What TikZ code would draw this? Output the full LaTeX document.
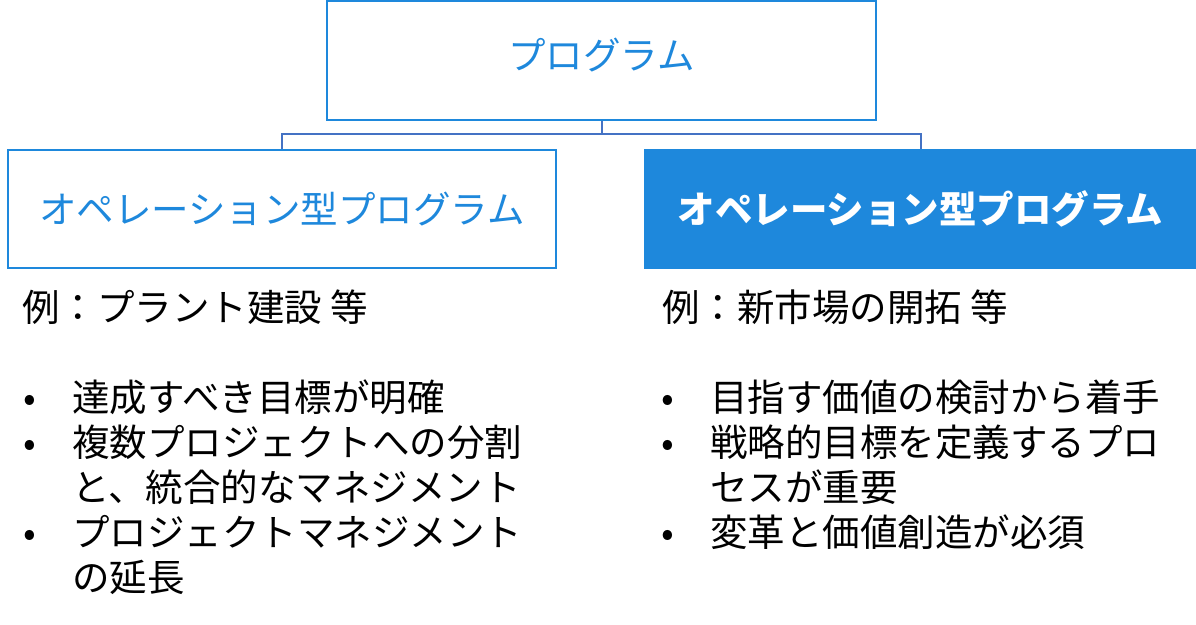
\documentclass[tikz,border=0pt]{standalone}
\usepackage{fontspec}
\setmainfont{Noto Sans CJK JP}
\definecolor{boxblue}{RGB}{30,136,220}
\definecolor{linkblue}{RGB}{68,114,196}
\begin{document}
\begin{tikzpicture}[x=1pt,y=-1pt,
  titlefont/.style={font=\fontsize{37.5}{45}\selectfont},
  outlinebox/.style={draw=boxblue, line width=2pt, inner sep=0pt, titlefont, text=boxblue},
  filledbox/.style={fill=boxblue, draw=boxblue, line width=2pt, inner sep=0pt, text=white, font=\fontsize{37.5}{45}\selectfont\bfseries},
  link/.style={draw=linkblue, line width=2pt},
  bodytxt/.style={font=\fontsize{37.5}{45}\selectfont, inner sep=0pt, anchor=base west, text=black},
  bul/.style={font=\fontsize{37.5}{45}\selectfont, inner sep=0pt, anchor=base, text=black}]
\useasboundingbox (0,0) rectangle (1196,624);
\fill[white] (0,0) rectangle (1196,624);

\node[outlinebox, minimum width=549pt, minimum height=119pt, text depth=14pt] (top) at (601.5,60.5) {プログラム};
\node[outlinebox, minimum width=548pt, minimum height=118pt] (left) at (282,209) {オペレーション型プログラム};
\node[filledbox, minimum width=551pt, minimum height=118pt] (right) at (920.5,209) {オペレーション型プログラム};

\draw[link] (top.south) -- ++(0,13) -| (left.north);
\draw[link] (top.south) -- ++(0,13) -| (right.north);

% left column
\node[bodytxt] (lex) at (22,321) {例：プラント建設 等};
\node[bul] (lb1) at (30,411) {•};
\node[bodytxt] (lt1) at (72,411) {達成すべき目標が明確};
\node[bul] (lb2) at (30,456) {•};
\node[bodytxt] (lt2) at (72,456) {複数プロジェクトへの分割};
\node[bodytxt] (lt2b) at (72,501) {と、統合的なマネジメント};
\node[bul] (lb3) at (30,546) {•};
\node[bodytxt] (lt3) at (72,546) {プロジェクトマネジメント};
\node[bodytxt] (lt3b) at (72,591) {の延長};

% right column
\node[bodytxt] (rex) at (662,321) {例：新市場の開拓 等};
\node[bul] (rb1) at (668,411) {•};
\node[bodytxt] (rt1) at (710,411) {目指す価値の検討から着手};
\node[bul] (rb2) at (668,456) {•};
\node[bodytxt] (rt2) at (710,456) {戦略的目標を定義するプロ};
\node[bodytxt] (rt2b) at (710,501) {セスが重要};
\node[bul] (rb3) at (668,546) {•};
\node[bodytxt] (rt3) at (710,546) {変革と価値創造が必須};
\end{tikzpicture}
\end{document}
